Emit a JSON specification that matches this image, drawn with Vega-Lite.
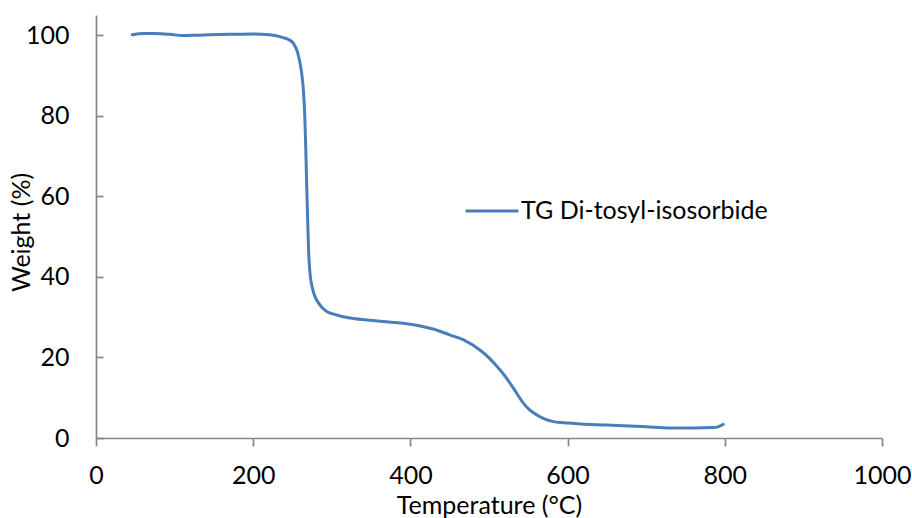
{
  "$schema": "https://vega.github.io/schema/vega-lite/v6.json",
  "autosize": "none",
  "width": 786,
  "height": 423,
  "padding": {"left": 96, "top": 15, "right": 30, "bottom": 80},
  "background": "white",
  "config": {
    "view": {"stroke": null},
    "font": "Lato",
    "axis": {
      "grid": false,
      "domainColor": "#868686",
      "domainWidth": 1.7,
      "tickColor": "#868686",
      "tickWidth": 1.7,
      "labelFont": "Lato",
      "labelFontSize": 25,
      "labelColor": "#000000",
      "titleFont": "Lato",
      "titleFontSize": 25,
      "titleFontWeight": "normal",
      "titleColor": "#000000"
    }
  },
  "data": {
    "values": [
      {"t": 46, "w": 100.1, "s": "TG Di-tosyl-isosorbide"},
      {"t": 60, "w": 100.4, "s": "TG Di-tosyl-isosorbide"},
      {"t": 75, "w": 100.4, "s": "TG Di-tosyl-isosorbide"},
      {"t": 94, "w": 100.2, "s": "TG Di-tosyl-isosorbide"},
      {"t": 110, "w": 99.9, "s": "TG Di-tosyl-isosorbide"},
      {"t": 130, "w": 100.0, "s": "TG Di-tosyl-isosorbide"},
      {"t": 170, "w": 100.2, "s": "TG Di-tosyl-isosorbide"},
      {"t": 200, "w": 100.3, "s": "TG Di-tosyl-isosorbide"},
      {"t": 221, "w": 100.1, "s": "TG Di-tosyl-isosorbide"},
      {"t": 238, "w": 99.4, "s": "TG Di-tosyl-isosorbide"},
      {"t": 245, "w": 98.9, "s": "TG Di-tosyl-isosorbide"},
      {"t": 251, "w": 98.0, "s": "TG Di-tosyl-isosorbide"},
      {"t": 256, "w": 96.0, "s": "TG Di-tosyl-isosorbide"},
      {"t": 259.5, "w": 93.2, "s": "TG Di-tosyl-isosorbide"},
      {"t": 262, "w": 90.0, "s": "TG Di-tosyl-isosorbide"},
      {"t": 264, "w": 86.0, "s": "TG Di-tosyl-isosorbide"},
      {"t": 265.8, "w": 79.0, "s": "TG Di-tosyl-isosorbide"},
      {"t": 267.0, "w": 70.9, "s": "TG Di-tosyl-isosorbide"},
      {"t": 268.1, "w": 62.5, "s": "TG Di-tosyl-isosorbide"},
      {"t": 269.3, "w": 54.2, "s": "TG Di-tosyl-isosorbide"},
      {"t": 270.6, "w": 45.9, "s": "TG Di-tosyl-isosorbide"},
      {"t": 272, "w": 41.5, "s": "TG Di-tosyl-isosorbide"},
      {"t": 273.2, "w": 39.3, "s": "TG Di-tosyl-isosorbide"},
      {"t": 275, "w": 37.5, "s": "TG Di-tosyl-isosorbide"},
      {"t": 278.6, "w": 35.1, "s": "TG Di-tosyl-isosorbide"},
      {"t": 281, "w": 34.2, "s": "TG Di-tosyl-isosorbide"},
      {"t": 287, "w": 32.5, "s": "TG Di-tosyl-isosorbide"},
      {"t": 293.5, "w": 31.4, "s": "TG Di-tosyl-isosorbide"},
      {"t": 305, "w": 30.6, "s": "TG Di-tosyl-isosorbide"},
      {"t": 323, "w": 29.8, "s": "TG Di-tosyl-isosorbide"},
      {"t": 345, "w": 29.3, "s": "TG Di-tosyl-isosorbide"},
      {"t": 365, "w": 28.9, "s": "TG Di-tosyl-isosorbide"},
      {"t": 390, "w": 28.5, "s": "TG Di-tosyl-isosorbide"},
      {"t": 408, "w": 28.0, "s": "TG Di-tosyl-isosorbide"},
      {"t": 430, "w": 27.0, "s": "TG Di-tosyl-isosorbide"},
      {"t": 450, "w": 25.6, "s": "TG Di-tosyl-isosorbide"},
      {"t": 467, "w": 24.4, "s": "TG Di-tosyl-isosorbide"},
      {"t": 488, "w": 21.9, "s": "TG Di-tosyl-isosorbide"},
      {"t": 500, "w": 19.9, "s": "TG Di-tosyl-isosorbide"},
      {"t": 510, "w": 17.8, "s": "TG Di-tosyl-isosorbide"},
      {"t": 521, "w": 15.2, "s": "TG Di-tosyl-isosorbide"},
      {"t": 531, "w": 12.4, "s": "TG Di-tosyl-isosorbide"},
      {"t": 544, "w": 8.6, "s": "TG Di-tosyl-isosorbide"},
      {"t": 552, "w": 6.9, "s": "TG Di-tosyl-isosorbide"},
      {"t": 561, "w": 5.7, "s": "TG Di-tosyl-isosorbide"},
      {"t": 572, "w": 4.6, "s": "TG Di-tosyl-isosorbide"},
      {"t": 582, "w": 4.06, "s": "TG Di-tosyl-isosorbide"},
      {"t": 600, "w": 3.7, "s": "TG Di-tosyl-isosorbide"},
      {"t": 616, "w": 3.5, "s": "TG Di-tosyl-isosorbide"},
      {"t": 650, "w": 3.2, "s": "TG Di-tosyl-isosorbide"},
      {"t": 679, "w": 3.0, "s": "TG Di-tosyl-isosorbide"},
      {"t": 700, "w": 2.8, "s": "TG Di-tosyl-isosorbide"},
      {"t": 730, "w": 2.5, "s": "TG Di-tosyl-isosorbide"},
      {"t": 760, "w": 2.5, "s": "TG Di-tosyl-isosorbide"},
      {"t": 785, "w": 2.6, "s": "TG Di-tosyl-isosorbide"},
      {"t": 790, "w": 2.7, "s": "TG Di-tosyl-isosorbide"},
      {"t": 795, "w": 3.1, "s": "TG Di-tosyl-isosorbide"},
      {"t": 798, "w": 3.4, "s": "TG Di-tosyl-isosorbide"}
    ]
  },
  "mark": {"type": "line", "strokeWidth": 3, "interpolate": "monotone", "strokeCap": "round"},
  "encoding": {
    "x": {
      "field": "t", "type": "quantitative",
      "scale": {"domain": [0, 1000], "nice": false, "zero": false},
      "axis": {
        "title": "Temperature (°C)",
        "values": [0, 200, 400, 600, 800, 1000],
        "format": "d",
        "tickSize": 8,
        "labelPadding": 17,
        "labelFlush": false,
        "labelOverlap": false,
        "titleY": 75,
        "titleBaseline": "alphabetic"
      }
    },
    "y": {
      "field": "w", "type": "quantitative",
      "scale": {"domain": [0, 105], "nice": false},
      "axis": {
        "title": "Weight (%)",
        "values": [0, 20, 40, 60, 80, 100],
        "format": "d",
        "tickSize": -7,
        "labelPadding": 34,
        "labelFlush": false,
        "labelOverlap": false,
        "titleX": -67,
        "titleY": 217,
        "titleAngle": -90,
        "titleAlign": "center",
        "titleBaseline": "alphabetic"
      }
    },
    "color": {
      "field": "s", "type": "nominal",
      "scale": {"range": ["#4A7EBB"]},
      "legend": {
        "title": null,
        "orient": "none",
        "legendX": 368,
        "legendY": 168,
        "padding": 0,
        "symbolType": "stroke",
        "symbolSize": 2800,
        "symbolStrokeWidth": 3,
        "labelFont": "Lato",
        "labelFontSize": 25,
        "labelColor": "#000000",
        "labelOffset": 1,
        "labelLimit": 400
      }
    }
  }
}
